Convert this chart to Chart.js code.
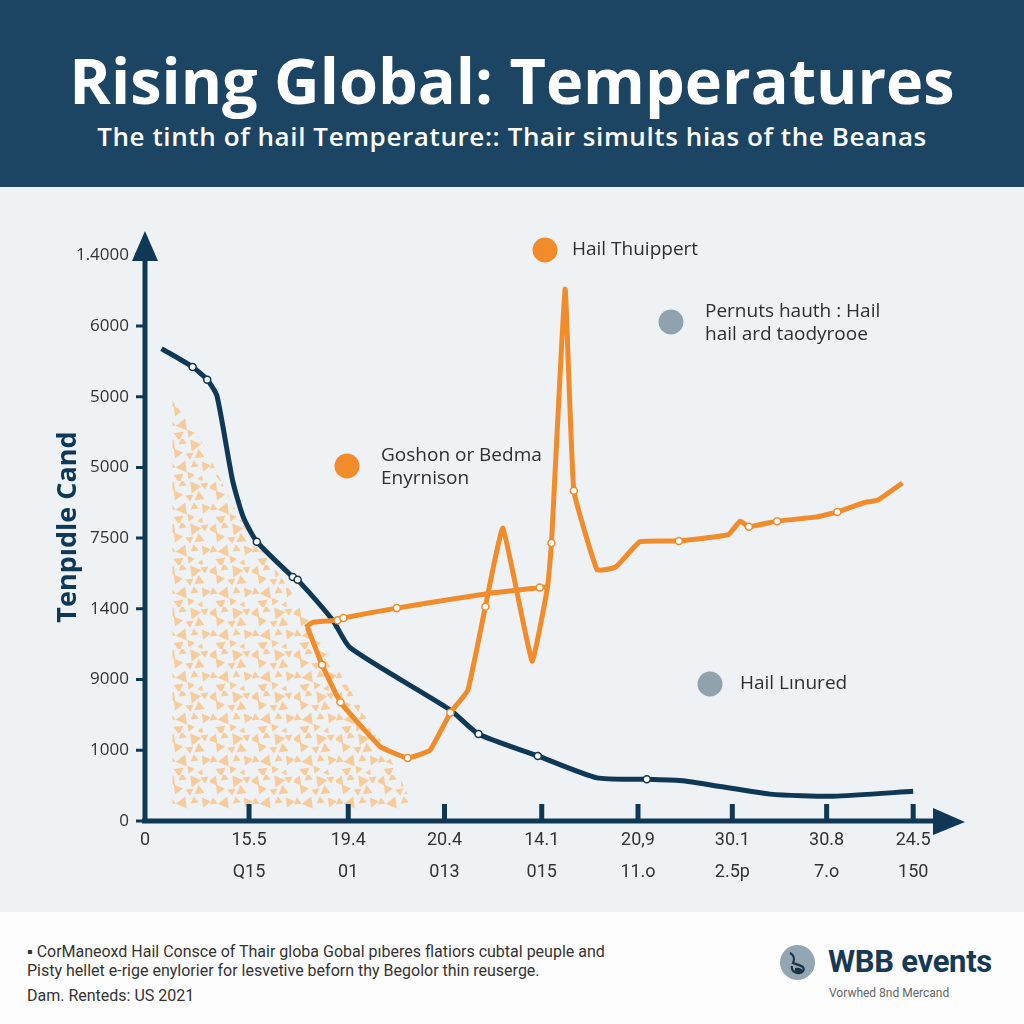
<!DOCTYPE html>
<html>
<head>
<meta charset="utf-8">
<script src="https://cdn.jsdelivr.net/npm/chart.js@4.4.1/dist/chart.umd.min.js"></script>
<style>
  html, body { margin: 0; padding: 0; }
  body { width: 1024px; height: 1024px; overflow: hidden; background: #fff; font-family: "Open Sans", sans-serif; position: relative; }
  #header { position: absolute; left: 0; top: 0; width: 1024px; height: 187px; background: #1c4563; color: #fff; text-align: center; }
  #title { position: absolute; left: 0; width: 1024px; top: 48px; font-size: 63px; font-weight: 700; line-height: 1; }
  #subtitle { position: absolute; left: 0; width: 1024px; top: 123px; font-size: 26px; font-weight: 600; letter-spacing: 0.6px; line-height: 1; }
  #plot { position: absolute; left: 0; top: 187px; width: 1024px; height: 725px; background: #eef2f4; }
  #footer { position: absolute; left: 0; top: 912px; width: 1024px; height: 112px; background: #fdfdfd; }
  .note { position: absolute; left: 27px; font-family: "Roboto", sans-serif; font-size: 16px; letter-spacing: 0px; color: #333; line-height: 1; white-space: nowrap; }
  #brand { position: absolute; left: 828px; top: 31px; font-family: "Roboto", sans-serif; font-weight: 700; font-size: 31px; color: #163a55; letter-spacing: -0.3px; }
  #brandsub { position: absolute; left: 829px; top: 74px; font-family: "Roboto", sans-serif; font-size: 12px; color: #666; }
  #logo { position: absolute; left: 780px; top: 33px; width: 35px; height: 35px; }
</style>
</head>
<body>
<div id="header">
  <div id="title">Rising Global: Temperatures</div>
  <div id="subtitle">The tinth of hail Temperature:: Thair simults hias of the Beanas</div>
</div>
<div id="plot"><canvas id="myChart" width="1024" height="725"></canvas></div>
<div id="footer">
  <div class="note" style="top:32px">&#9642; CorManeoxd Hail Consce of Thair globa Gobal pıberes flatiors cubtal peuple and</div>
  <div class="note" style="top:51px">Pisty hellet e-rige enylorier for lesvetive beforn thy Begolor thin reuserge.</div>
  <div class="note" style="top:76px">Dam. Renteds: US 2021</div>
  <svg id="logo" viewBox="0 0 35 35">
    <circle cx="17.5" cy="17.5" r="17.5" fill="#93a6b3"/>
    <path d="M10 8 C14 10 15 14 13 18 C16 19 20 20 23 22 C25 25 22 29 17 28 C13 27 11 24 12 21" fill="none" stroke="#1a3346" stroke-width="2.2"/>
    <path d="M15 23 C18 22 22 23 23 26 C21 28 17 28 15 26 Z" fill="#1a3346"/>
  </svg>
  <div id="brand">WBB events</div>
  <div id="brandsub">Vorwhed 8nd Mercand</div>
</div>
<script>
// tick labels as printed on the picture
const yLabels = ['0', '1000', '9000', '1400', '7500', '5000', '5000', '6000', '1.4000'];
const xTickAt = [0, 1.07, 2.09, 3.08, 4.08, 5.07, 6.04, 7.01, 7.9];
const xTopLabels = ['0', '15.5', '19.4', '20.4', '14.1', '20,9', '30.1', '30.8', '24.5'];
const xBottomLabels = ['', 'Q15', '01', '013', '015', '11.o', '2.5p', '7.o', '150'];

// dark blue series
const navyX = [0.17, 0.49, 0.64, 0.74, 0.90, 1.01, 1.15, 1.52, 1.57, 1.93, 2.11, 3.14, 3.43, 4.04, 4.65, 5.16, 5.53, 6.43, 7.08, 7.90];
const navyY = [6.68, 6.42, 6.24, 6.01, 4.82, 4.30, 3.95, 3.45, 3.41, 2.84, 2.45, 1.57, 1.23, 0.92, 0.61, 0.59, 0.57, 0.38, 0.35, 0.42];
const navyDots = [1, 2, 6, 7, 8, 12, 13, 15];

// orange series, main path
const orangeX = [1.67, 1.82, 2.01, 2.42, 2.70, 2.93, 3.14, 3.32, 3.50, 3.68, 3.98, 4.14, 4.18, 4.32, 4.41, 4.65, 4.84, 5.09, 5.49, 6.00, 6.12, 6.21, 6.50, 6.91, 7.12, 7.39, 7.54, 7.79];
const orangeY = [2.74, 2.21, 1.68, 1.05, 0.89, 1.00, 1.53, 1.85, 3.03, 4.14, 2.26, 3.31, 3.93, 7.52, 4.67, 3.55, 3.59, 3.95, 3.96, 4.05, 4.24, 4.16, 4.24, 4.30, 4.37, 4.50, 4.54, 4.78];
const orangeDots = [1, 2, 4, 6, 8, 12, 14, 18, 21, 22, 24];

// orange series, upper branch
const upperX = [1.65, 1.73, 1.98, 2.04, 2.59, 3.50, 4.06, 4.14];
const upperY = [2.74, 2.81, 2.84, 2.87, 3.01, 3.21, 3.30, 3.31];
const upperDots = [2, 3, 4, 6];

// outline of the dotted area
const areaX = [0.28, 0.57, 0.93, 1.18, 1.49, 1.80, 2.11, 2.42, 2.73, 2.73];
const areaY = [5.95, 5.39, 4.41, 3.86, 3.27, 2.56, 1.85, 1.15, 0.30, 0.18];

const NAVY = '#0f3856';
const ORANGE = '#f28b2a';

const toPoints = (xs, ys) => xs.map((x, i) => ({x: x, y: ys[i]}));

function trianglePattern() {
    const c = document.createElement('canvas');
    c.width = 42; c.height = 42;
    const g = c.getContext('2d');
    g.fillStyle = 'rgba(250,188,124,0.72)';
    const bits = [[4,5,0,5],[15,3,1,4],[26,7,2,6],[36,4,3,4],[9,15,2,5],[21,16,3,4],[32,16,1,5],
                  [4,27,1,4],[15,27,0,6],[27,26,1,4],[37,28,2,5],[10,38,3,5],[22,37,2,4],[33,39,0,3]];
    bits.forEach(function (b) {
        const s = b[3];
        g.save();
        g.translate(b[0], b[1]);
        g.rotate(b[2] * Math.PI / 2 + 0.4);
        g.beginPath();
        g.moveTo(0, -s); g.lineTo(s, s * 0.75); g.lineTo(-s, s * 0.75);
        g.closePath();
        g.fill();
        g.restore();
    });
    return g.createPattern(c, 'repeat');
}

function dotRadius(list) {
    return ctx => list.includes(ctx.dataIndex) ? 3.5 : 0;
}

// axes, arrows, marks and floating labels
const decor = {
    id: 'decor',
    afterDraw(chart) {
        const ctx = chart.ctx;
        const a = chart.chartArea;
        const xs = chart.scales.x, ys = chart.scales.y;
        ctx.save();
        ctx.strokeStyle = NAVY;
        ctx.fillStyle = NAVY;
        ctx.lineWidth = 5;
        ctx.beginPath();
        ctx.moveTo(a.left, a.bottom);
        ctx.lineTo(a.left, a.top + 25);
        ctx.moveTo(a.left - 3, a.bottom);
        ctx.lineTo(a.right - 5, a.bottom);
        ctx.stroke();
        // arrow heads
        ctx.beginPath();
        ctx.moveTo(a.left, a.top - 3);
        ctx.lineTo(a.left - 13, a.top + 27);
        ctx.lineTo(a.left + 13, a.top + 27);
        ctx.closePath();
        ctx.fill();
        ctx.beginPath();
        ctx.moveTo(a.right + 10, a.bottom + 1);
        ctx.lineTo(a.right - 22, a.bottom - 13);
        ctx.lineTo(a.right - 22, a.bottom + 14);
        ctx.closePath();
        ctx.fill();
        // tick marks
        ctx.lineWidth = 3;
        ctx.beginPath();
        for (let i = 1; i < yLabels.length - 1; i++) {
            const py = ys.getPixelForValue(i);
            ctx.moveTo(a.left - 9, py);
            ctx.lineTo(a.left, py);
        }
        ctx.moveTo(a.left - 9, a.bottom);
        ctx.lineTo(a.left, a.bottom);
        ctx.stroke();
        ctx.lineWidth = 5;
        ctx.beginPath();
        xTickAt.slice(1).forEach(v => {
            const px = xs.getPixelForValue(v);
            ctx.moveTo(px, a.bottom);
            ctx.lineTo(px, a.bottom - 17);
        });
        ctx.stroke();

        // y axis title
        ctx.save();
        ctx.translate(68, 340);
        ctx.rotate(-Math.PI / 2);
        ctx.font = 'bold 27px "Open Sans", sans-serif';
        ctx.textAlign = 'center';
        ctx.textBaseline = 'middle';
        ctx.fillText('Tenpıdle Cand', 0, 0);
        ctx.restore();

        // floating key labels
        const keys = [
            {cx: 545, cy: 63, col: '#f28b2a', lines: ['Hail Thuippert'], tx: 572},
            {cx: 671, cy: 135, col: '#8fa2ae', lines: ['Pernuts hauth : Hail', 'hail ard taodyrooe'], tx: 705},
            {cx: 347, cy: 279, col: '#f28b2a', lines: ['Goshon or Bedma', 'Enyrnison'], tx: 381},
            {cx: 710, cy: 497, col: '#8fa2ae', lines: ['Hail Lınured'], tx: 740}
        ];
        ctx.font = '19px "Open Sans", sans-serif';
        ctx.textAlign = 'left';
        ctx.textBaseline = 'middle';
        keys.forEach(k => {
            ctx.fillStyle = k.col;
            ctx.beginPath();
            ctx.arc(k.cx, k.cy, 12.5, 0, Math.PI * 2);
            ctx.fill();
            ctx.fillStyle = '#2f2f2f';
            const y0 = k.lines.length > 1 ? k.cy - 10 : k.cy;
            k.lines.forEach((t, i) => ctx.fillText(t, k.tx, y0 + i * 23));
        });
        ctx.restore();
    }
};

const ctx = document.getElementById('myChart').getContext('2d');
const chart = new Chart(ctx, {
    type: 'line',
    data: {
        datasets: [
            {
                label: 'upper',
                data: toPoints(upperX, upperY),
                borderColor: ORANGE,
                borderWidth: 5,
                tension: 0.2,
                pointRadius: dotRadius(upperDots),
                pointBackgroundColor: '#fff',
                pointBorderColor: ORANGE,
                pointBorderWidth: 1.5,
                order: 0
            },
            {
                label: 'orange',
                data: toPoints(orangeX, orangeY),
                borderColor: ORANGE,
                borderWidth: 5,
                tension: 0.1,
                borderJoinStyle: 'round',
                pointRadius: dotRadius(orangeDots),
                pointBackgroundColor: '#fff',
                pointBorderColor: ORANGE,
                pointBorderWidth: 1.5,
                order: 1
            },
            {
                label: 'navy',
                data: toPoints(navyX, navyY),
                borderColor: NAVY,
                borderWidth: 5,
                tension: 0.2,
                pointRadius: dotRadius(navyDots),
                pointBackgroundColor: '#fff',
                pointBorderColor: NAVY,
                pointBorderWidth: 1.5,
                order: 2
            },
            {
                label: 'area',
                data: toPoints(areaX, areaY),
                borderWidth: 0,
                borderColor: 'rgba(0,0,0,0)',
                backgroundColor: trianglePattern(),
                fill: {value: 0.18},
                tension: 0.2,
                pointRadius: 0,
                order: 3
            }
        ]
    },
    options: {
        responsive: false,
        animation: false,
        layout: { padding: { top: 47, right: 69, left: 0, bottom: 0 } },
        plugins: { legend: { display: false }, tooltip: { enabled: false }, title: { display: false } },
        scales: {
            x: {
                type: 'linear',
                min: 0,
                max: 8.33,
                afterBuildTicks: s => { s.ticks = xTickAt.map(v => ({value: v})); },
                afterFit: s => { s.height = 91; },
                grid: { display: false, drawTicks: false },
                border: { display: false },
                ticks: {
                    autoSkip: false,
                    maxRotation: 0,
                    padding: 3,
                    color: '#333',
                    font: { family: 'Roboto, sans-serif', size: 18, lineHeight: 1.8 },
                    callback: (v, i) => [xTopLabels[i], xBottomLabels[i]]
                }
            },
            y: {
                min: 0,
                max: 8.3,
                afterBuildTicks: s => { s.ticks = yLabels.map((t, i) => ({value: i})); },
                afterFit: s => { s.width = 145; },
                grid: { display: false, drawTicks: false },
                border: { display: false },
                ticks: {
                    padding: 16,
                    color: '#333',
                    font: { family: '"Open Sans", sans-serif', size: 17 },
                    callback: (v, i) => yLabels[i]
                }
            }
        }
    },
    plugins: [decor]
});
</script>
</body>
</html>
